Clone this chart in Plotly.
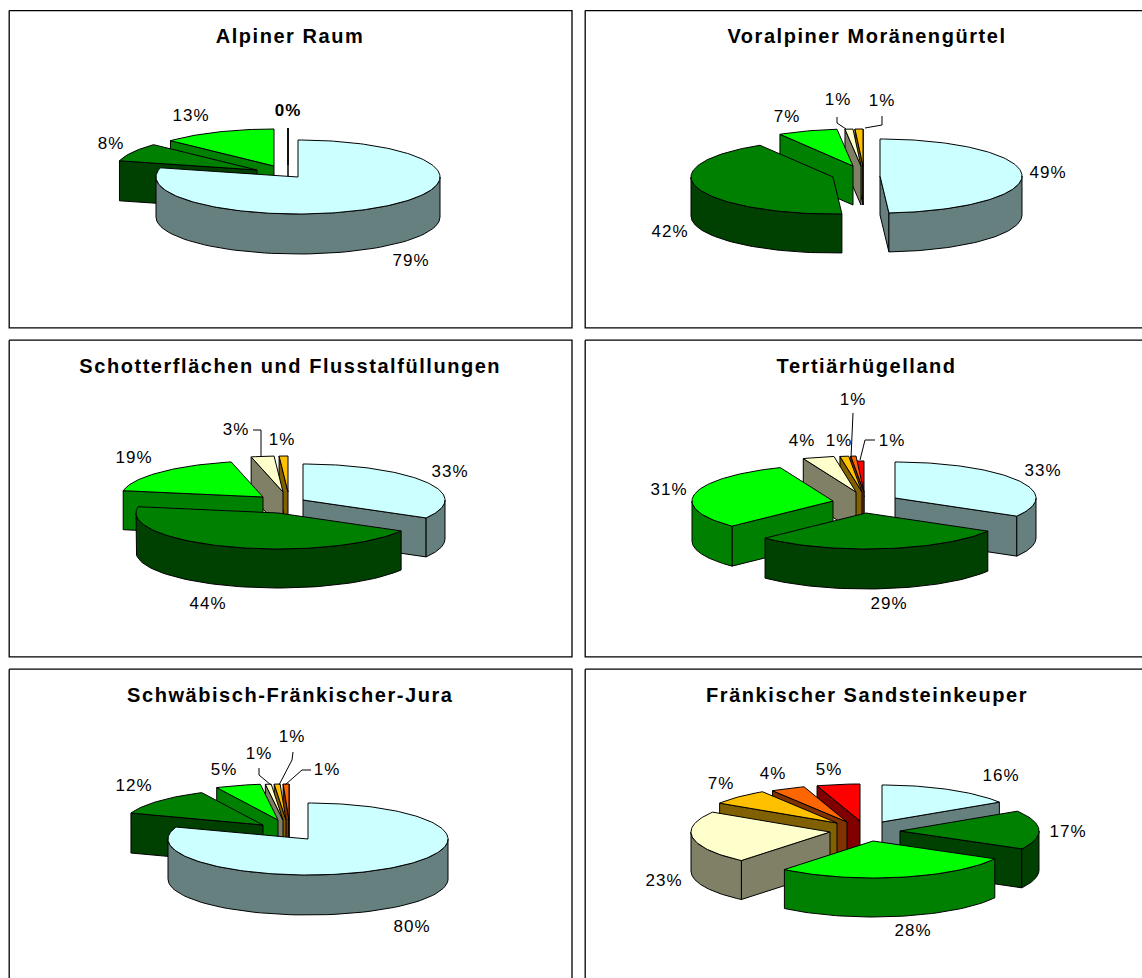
import numpy as np
import plotly.graph_objects as go

# ---- data (labels show the rounded value) ----
titles = ["Alpiner Raum", "Voralpiner Moränengürtel", "Schotterflächen und Flusstalfüllungen",
          "Tertiärhügelland", "Schwäbisch-Fränkischer-Jura", "Fränkischer Sandsteinkeuper"]
alpiner_raum = [79, 8, 13, 0]
voralpiner = [49, 42.4, 6.8, 0.9, 0.9]
schotter = [33.3, 44.5, 18.6, 2.6, 1.0]
tertiaer = [33.4, 29.3, 31.2, 3.6, 1.0, 0.6, 0.9]
jura = [80.4, 12.4, 5.2, 0.67, 0.67, 0.67]
keuper = [16, 17, 28, 23, 7, 4, 5]
series = [alpiner_raum, voralpiner, schotter, tertiaer, jura, keuper]

# ---- styles / layout ----
slice_top = ["#CCFFFF", "#008000", "#00FF00", "#FFFFCC", "#FFC000", "#FF6600", "#FF0000"]
slice_side = ["#668080", "#004000", "#008000", "#808066", "#806000", "#803300", "#800000"]
panel_boxes = [(9.2, 10.6, 572, 327.8), (585.2, 10.6, 1160, 327.8), (9.2, 340.2, 572, 656.8),
               (585.2, 340.2, 1160, 656.8), (9.2, 669.2, 572, 1000), (585.2, 669.2, 1160, 1000)]
title_pos = [(290, 36), (867, 36), (290, 366), (866, 366), (290, 695), (867, 695)]
# rx, ry, depth per panel; apex of each exploded slice on the canvas
shape3d = [(142, 37, 40), (142, 37, 39), (142, 36, 39), (141, 36, 40), (140, 36, 40), (139, 37, 39)]
apex = [
    [(298, 177), (257, 170), (274, 166), (288, 165)],
    [(880, 176), (833, 177), (853, 166), (861, 166), (863, 166)],
    [(303, 500), (278, 513), (263, 497), (283, 492), (288, 492)],
    [(895, 498), (866, 513), (833, 501), (856, 492), (862, 492), (864, 492), (864, 497)],
    [(308, 839), (263, 825), (278, 820), (283, 820), (286, 820), (289, 820)],
    [(882, 822), (900, 831), (873, 841), (830, 832), (837, 823), (847, 822), (860, 821)],
]
label_pos = [
    [(411, 262), (111, 145), (191, 117), (288, 112)],
    [(1048, 174), (670, 233), (787, 118), (838, 101), (882, 102)],
    [(450, 473), (208, 605), (134, 459), (236, 431), (282, 441)],
    [(1043, 472), (889, 605), (669, 491), (802, 442), (839, 442), (853, 401), (892, 442)],
    [(412, 928), (134, 787), (224, 771), (259, 755), (292, 738), (327, 771)],
    [(1001, 777), (1068, 833), (913, 932), (664, 882), (721, 785), (773, 775), (829, 771)],
]
leaders = [
    [(837, 117), (837, 123), (846, 129)], [(882, 116), (882, 125), (865, 128)],
    [(253, 430), (261, 430), (261, 457)],
    [(853, 413), (851, 458)], [(875, 440), (865, 440), (860, 460)],
    [(259, 768), (259, 775), (271, 785)], [(293, 752), (292, 760), (279, 785)],
    [(311, 770), (302, 770), (285, 785)],
]

fig = go.Figure()


def poly(xs, ys, fill, width=1):
    fig.add_trace(go.Scatter(x=list(xs), y=list(ys), mode="lines", fill="toself", fillcolor=fill,
                             line=dict(color="black", width=width), hoverinfo="skip", showlegend=False))


for (x0, y0, x1, y1) in panel_boxes:
    poly([x0, x1, x1, x0, x0], [y0, y0, y1, y1, y0], "white", 1.3)

for vals, (rx, ry, depth), apexes, labs, ttl, tp in zip(series, shape3d, apex, label_pos, titles, title_pos):
    total = sum(vals)
    edges = np.cumsum([0] + vals) / total * 2 * np.pi
    order = sorted(range(len(vals)), key=lambda i: -np.cos((edges[i] + edges[i + 1]) / 2))
    for i in order:
        a0, a1 = edges[i], edges[i + 1]
        ax, ay = apexes[i]
        top, side = slice_top[i], slice_side[i]
        px = lambda a: ax + rx * np.sin(a)
        py = lambda a: ay - ry * np.cos(a)
        # radial cut faces
        if np.sin(a0) < 0 or a0 == a1:
            poly([ax, px(a0), px(a0), ax, ax], [ay, py(a0), py(a0) + depth, ay + depth, ay], side)
        if np.sin(a1) > 0:
            poly([ax, px(a1), px(a1), ax, ax], [ay, py(a1), py(a1) + depth, ay + depth, ay], side)
        # outer wall (front half only)
        w0, w1 = max(a0, np.pi / 2), min(a1, 3 * np.pi / 2)
        if w1 > w0:
            t = np.linspace(w0, w1, 60)
            poly(np.r_[px(t), px(t[::-1]), px(t[0])], np.r_[py(t), py(t[::-1]) + depth, py(t[0])], side)
        # top face
        t = np.linspace(a0, a1, max(2, int((a1 - a0) * 40)))
        poly(np.r_[ax, px(t), ax], np.r_[ay, py(t), ay], top)
    fig.add_trace(go.Scatter(x=[p[0] for p in labs], y=[p[1] for p in labs], mode="text",
                             text=[f"<b>{round(v)}%</b>" if v == 0 else f"{round(v)}%" for v in vals],
                             textposition="middle center", hoverinfo="skip", showlegend=False,
                             textfont=dict(family="Liberation Sans", size=17, color="black")))
    fig.add_annotation(x=tp[0], y=tp[1], text=f"<b>{ttl}</b>", showarrow=False,
                       font=dict(family="Liberation Sans", size=20, color="black"))

for seg in leaders:
    fig.add_trace(go.Scatter(x=[p[0] for p in seg], y=[p[1] for p in seg], mode="lines",
                             line=dict(color="black", width=1), hoverinfo="skip", showlegend=False))

fig.update_layout(width=1142, height=978, margin=dict(l=0, r=0, t=0, b=0),
                  paper_bgcolor="white", plot_bgcolor="white", showlegend=False,
                  xaxis=dict(range=[0, 1142], visible=False, fixedrange=True),
                  yaxis=dict(range=[978, 0], visible=False, fixedrange=True))

post = """
document.body.style.margin='0';
document.body.style.overflow='hidden';
var s=document.createElement('style');
s.textContent='.annotation-text{letter-spacing:1.55px}.textpoint text{letter-spacing:1px}';
document.head.appendChild(s);
"""
fig.write_html("out.html", post_script=post, config={"displayModeBar": False})
